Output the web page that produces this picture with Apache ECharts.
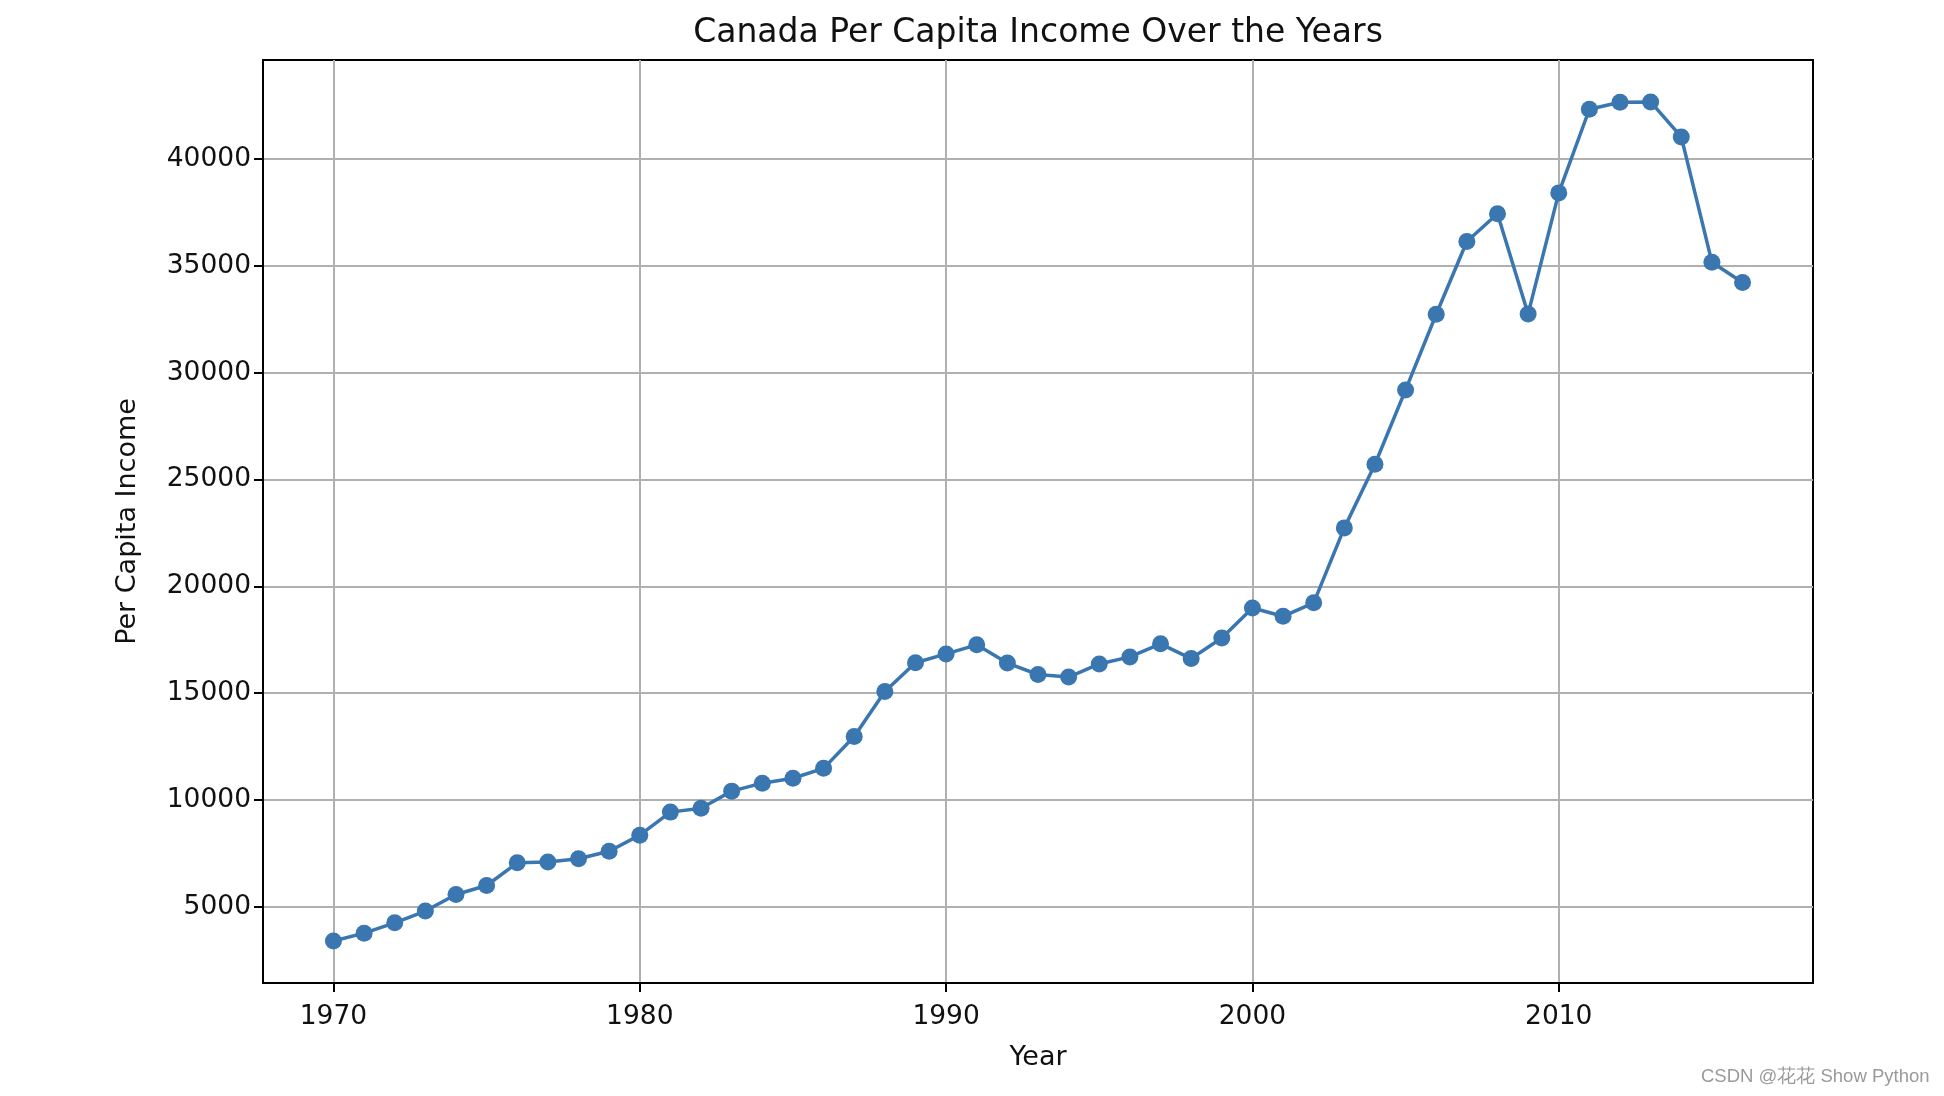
<!DOCTYPE html>
<html>
<head>
<meta charset="utf-8">
<script src="https://cdn.jsdelivr.net/npm/echarts@6/dist/echarts.min.js"></script>
<style>
html,body{margin:0;padding:0;background:#fff;}
#chart{width:1944px;height:1096px;}
#wm{position:absolute;left:1701px;top:1063px;font-family:"Liberation Sans",Arial,sans-serif;font-size:18.5px;color:#9a9a9a;white-space:nowrap;}
</style>
</head>
<body>
<div id="chart"></div>
<div id="wm">CSDN @花花 Show Python</div>
<script>
const years = [1970,1971,1972,1973,1974,1975,1976,1977,1978,1979,1980,1981,1982,1983,1984,1985,1986,1987,1988,1989,1990,1991,1992,1993,1994,1995,1996,1997,1998,1999,2000,2001,2002,2003,2004,2005,2006,2007,2008,2009,2010,2011,2012,2013,2014,2015,2016];
const income = [3399.3,3768.3,4251.2,4804.5,5576.5,5998.1,7062.1,7100.1,7248.0,7602.9,8356.0,9434.4,9619.4,10416.5,10790.3,11019.0,11482.9,12974.8,15080.3,16426.7,16838.7,17266.1,16412.1,15875.6,15755.8,16369.3,16699.8,17310.8,16622.7,17581.0,18987.4,18601.4,19232.2,22739.4,25719.1,29198.1,32738.3,36144.5,37446.5,32755.2,38420.5,42334.7,42665.3,42676.5,41039.9,35175.2,34229.2];
const xTicks = [1970,1980,1990,2000,2010];
const yTicks = [5000,10000,15000,20000,25000,30000,35000,40000];

const font = 'DejaVu Sans';
const xMin = 1967.7, xMax = 2018.3;
const yMin = 1435.4, yMax = 44640.3;

const chart = echarts.init(document.getElementById('chart'));
chart.setOption({
  animation: false,
  backgroundColor: '#fff',
  graphic: [{
    type: 'text', x: 1038, y: 33,
    style: {
      text: 'Canada Per Capita Income Over the Years',
      fontFamily: font, fontSize: 33, fill: '#111',
      textAlign: 'center', textVerticalAlign: 'middle'
    }
  }],
  grid: {left: 263, right: 131, top: 60, bottom: 113, show: true, borderColor: '#000', borderWidth: 2, backgroundColor: 'transparent'},
  xAxis: {
    type: 'value', min: xMin, max: xMax,
    name: 'Year', nameLocation: 'middle', nameGap: 61,
    nameTextStyle: {fontFamily: font, fontSize: 27, color: '#111'},
    axisLine: {show: true, onZero: false, lineStyle: {color: '#000', width: 2}},
    axisTick: {show: true, length: 9, customValues: xTicks, lineStyle: {color: '#000', width: 2}},
    axisLabel: {customValues: xTicks, formatter: v => String(Math.round(v)), fontFamily: font, fontSize: 26.5, color: '#111', margin: 21},
    splitLine: {show: true, lineStyle: {color: '#b0b0b0', width: 2}}
  },
  yAxis: {
    type: 'value', min: yMin, max: yMax,
    name: 'Per Capita Income', nameLocation: 'middle', nameGap: 122, nameRotate: 90,
    nameTextStyle: {fontFamily: font, fontSize: 27, color: '#111'},
    axisLine: {show: true, onZero: false, lineStyle: {color: '#000', width: 2}},
    axisTick: {show: true, length: 9, customValues: yTicks, lineStyle: {color: '#000', width: 2}},
    axisLabel: {customValues: yTicks, formatter: v => String(Math.round(v)), fontFamily: font, fontSize: 26.5, color: '#111', margin: 12},
    splitLine: {show: true, lineStyle: {color: '#b0b0b0', width: 2}}
  },
  series: [{
    type: 'line',
    data: years.map((y, i) => [y, income[i]]),
    symbol: 'circle', symbolSize: 17, showSymbol: true,
    itemStyle: {color: '#3a76b0'},
    lineStyle: {color: '#3a76b0', width: 3.5},
    z: 5
  }]
});
</script>
</body>
</html>
